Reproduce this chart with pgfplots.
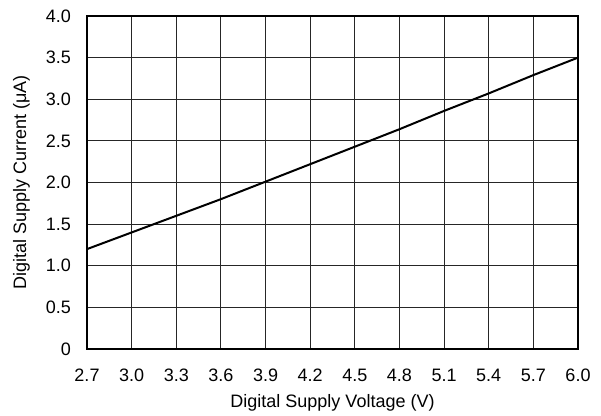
\documentclass[border=0pt]{standalone}
\usepackage{fontspec}
\setmainfont{Liberation Sans}
\usepackage{pgfplots}
\pgfplotsset{compat=1.18}

\begin{document}
\begin{tikzpicture}
% page frame: white margin around the plot box
\path[use as bounding box] (-87bp,-67bp) rectangle (514bp,349bp);
\begin{axis}[
  at={(0,0)}, anchor=south west,
  scale only axis,
  width=491bp, height=333bp,
  xmin=2.7, xmax=6.0, ymin=0, ymax=4.0,
  xtick={2.7,3.0,3.3,3.6,3.9,4.2,4.5,4.8,5.1,5.4,5.7,6.0},
  xticklabels={2.7,3.0,3.3,3.6,3.9,4.2,4.5,4.8,5.1,5.4,5.7,6.0},
  ytick={0,0.5,1.0,1.5,2.0,2.5,3.0,3.5,4.0},
  yticklabels={0,0.5,1.0,1.5,2.0,2.5,3.0,3.5,4.0},
  major tick length=0pt,
  grid=major,
  major grid style={black!85, line width=0.9bp},
  axis line style={black, line width=2bp},
  font=\fontsize{18bp}{21bp}\selectfont,
  xticklabel style={anchor=base, inner sep=0pt, yshift=-32bp},
  yticklabel style={anchor=east, inner sep=0pt, xshift=-16bp},
  xlabel={Digital Supply Voltage (V)},
  ylabel={Digital Supply Current (μA)},
  xlabel style={at={(axis description cs:0.5,-0.1742)}, anchor=base, inner sep=0pt},
  ylabel style={at={(axis description cs:-0.1242,0.5)}, anchor=base, inner sep=0pt},
  clip=false,
]
\addplot[black, line width=2bp] coordinates {
  (2.7,1.20) (3.0,1.40) (3.3,1.60) (3.6,1.80) (3.9,2.01) (4.2,2.22)
  (4.5,2.43) (4.8,2.64) (5.1,2.86) (5.4,3.07) (5.7,3.29) (6.0,3.50)
};
\end{axis}
\end{tikzpicture}
\end{document}
